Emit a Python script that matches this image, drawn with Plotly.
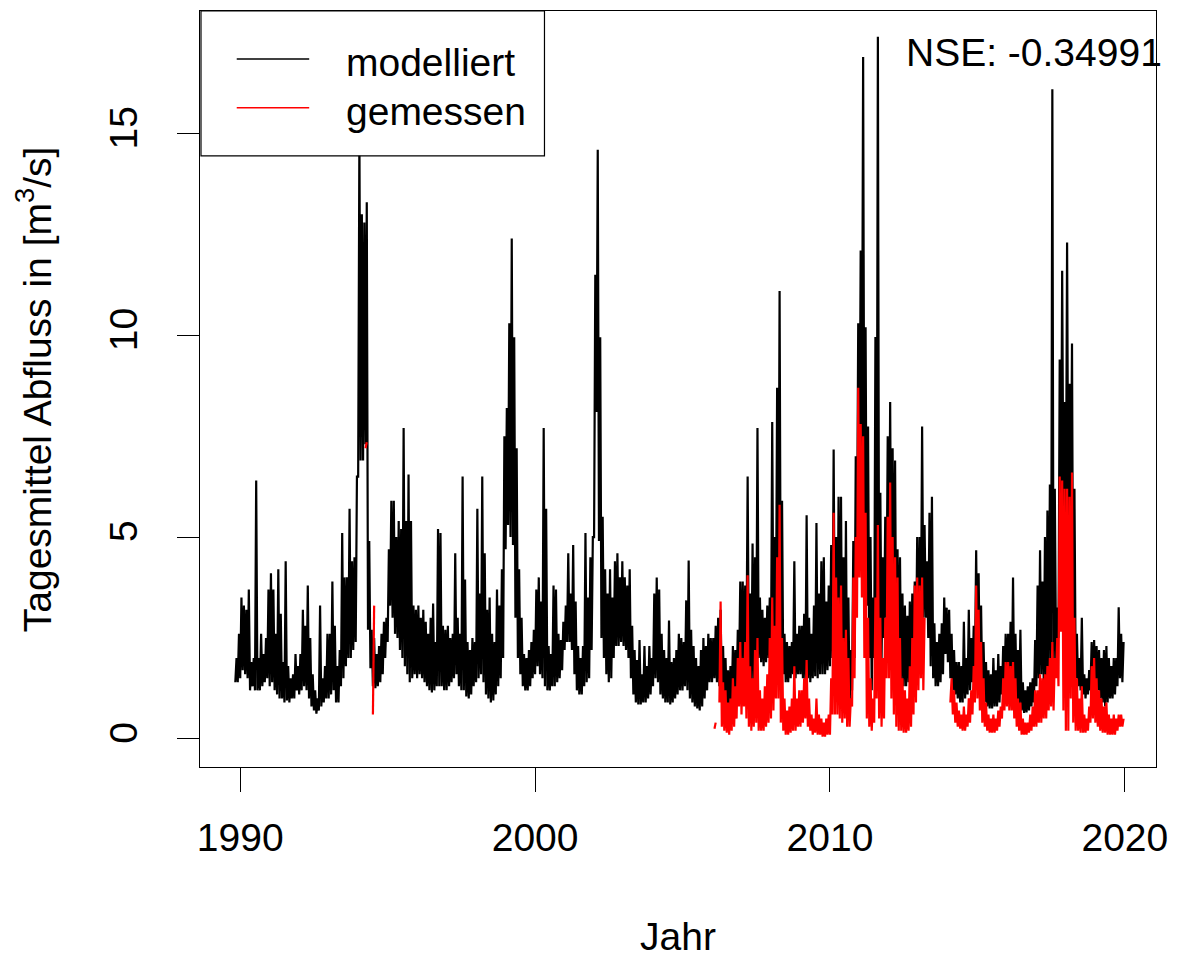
import pandas as pd
import plotly.graph_objects as go

# ---------------- data (monthly low / high envelope of daily values, m^3/s) ----------------
mod_start = "1989-11"   # modelled series, monthly steps
mod_low = [
    1.4, 1.4,                                                       # 1989 Nov-Dec
    1.5, 1.7, 1.6, 1.5, 1.2, 1.3, 1.2, 1.2, 1.2, 1.3, 1.4, 1.5,     # 1990
    1.3, 1.4, 1.2, 1.1, 1.0, 1.0, 0.9, 0.95, 0.9, 1.0, 1.0, 1.2,    # 1991
    1.1, 1.2, 1.3, 1.2, 1.0, 0.8, 0.7, 0.62, 0.7, 0.8, 0.9, 1.0,    # 1992
    1.0, 1.1, 1.2, 0.9, 0.9, 1.3, 1.5, 1.8, 2.0, 2.0, 2.2, 2.4,     # 1993
    6.5, 6.9, 6.9, 7.3, 2.7, 1.75, 1.3, 1.25, 1.3, 1.4, 1.6, 2.0,   # 1994
    2.4, 3.3, 3.0, 2.6, 2.5, 2.2, 2.0, 1.8, 1.6, 1.4, 1.5, 1.6,     # 1995
    1.5, 1.6, 1.5, 1.4, 1.3, 1.2, 1.15, 1.2, 1.3, 1.3, 1.3, 1.2,    # 1996
    1.2, 1.3, 1.4, 1.5, 1.6, 1.3, 1.2, 1.2, 1.05, 1.0, 1.1, 1.3,    # 1997
    1.4, 1.5, 1.6, 1.4, 1.1, 1.0, 0.9, 0.95, 1.1, 1.3, 1.5, 2.0,    # 1998
    4.7, 5.3, 5.0, 4.8, 3.0, 2.0, 1.6, 1.3, 1.2, 1.2, 1.3, 1.5,     # 1999
    1.6, 1.8, 1.6, 1.5, 1.3, 1.2, 1.2, 1.3, 1.3, 1.4, 1.5, 1.7,     # 2000
    2.2, 2.4, 2.4, 2.2, 1.6, 1.2, 1.1, 1.1, 1.3, 1.4, 1.5, 2.2,     # 2001
    5.0, 8.1, 4.9, 2.5, 2.0, 1.6, 1.4, 1.5, 2.0, 2.3, 2.3, 2.4,     # 2002
    2.3, 2.2, 2.0, 1.5, 1.1, 0.9, 0.85, 0.85, 0.9, 0.9, 1.0, 1.1,   # 2003
    1.3, 1.5, 1.4, 1.1, 1.0, 0.9, 0.9, 0.85, 0.9, 1.0, 1.1, 1.2,    # 2004
    1.2, 1.3, 1.2, 1.0, 0.9, 0.8, 0.75, 0.7, 0.8, 1.0, 1.2, 1.4,    # 2005
    1.4, 1.5, 1.4, 1.3, 1.0, 0.85, 0.8, 0.8, 0.85, 1.0, 1.2, 1.6,   # 2006
    1.8, 1.9, 2.0, 1.6, 1.3, 1.4, 1.8, 2.0, 1.9, 1.8, 1.9, 2.0,     # 2007
    2.0, 2.2, 2.5, 2.6, 2.0, 1.6, 1.4, 1.4, 1.5, 1.6, 1.5, 1.6,     # 2008
    1.6, 1.5, 1.4, 1.5, 1.4, 1.5, 1.55, 1.5, 1.6, 1.6, 1.6, 1.7,    # 2009
    1.8, 2.0, 1.8, 1.5, 1.2, 1.0, 0.9, 0.7, 0.8, 1.2, 2.0, 4.5,     # 2010
    6.0, 7.0, 5.0, 3.3, 2.0, 1.2, 2.0, 3.4, 2.5, 2.0, 2.5, 3.0,     # 2011
    3.0, 2.5, 2.2, 1.6, 1.5, 1.4, 1.3, 1.3, 1.4, 1.5, 1.7, 2.0,     # 2012
    2.2, 2.5, 3.0, 3.0, 2.5, 1.8, 1.5, 1.3, 1.3, 1.4, 1.6, 2.1,     # 2013
    1.9, 1.5, 1.2, 1.1, 1.0, 0.9, 0.9, 1.0, 1.1, 1.2, 1.4, 1.8,     # 2014
    1.6, 1.4, 1.1, 0.9, 0.8, 0.75, 0.75, 0.8, 0.8, 0.9, 1.1, 1.3,   # 2015
    1.4, 1.2, 1.1, 1.0, 0.9, 0.8, 0.7, 0.64, 0.65, 0.7, 0.8, 0.9,   # 2016
    1.3, 1.5, 1.6, 1.4, 1.2, 1.5, 2.0, 1.5, 2.0, 2.5, 4.9, 5.5,     # 2017
    5.0, 4.9, 4.9, 2.0, 1.5, 1.3, 1.2, 1.1, 1.0, 1.1, 1.2, 1.2,     # 2018
    1.3, 1.2, 1.0, 0.9, 0.8, 0.9, 1.0, 1.0, 1.1, 1.3, 1.5, 1.4,     # 2019
]
mod_high = [
    2.0, 2.6,                                                       # 1989 Nov-Dec
    3.5, 3.3, 3.2, 3.7, 1.9, 2.0, 6.4, 2.0, 2.6, 2.1, 2.5, 3.7,     # 1990
    4.1, 3.7, 2.6, 4.2, 3.1, 1.9, 4.4, 1.8, 1.5, 1.6, 2.1, 1.8,     # 1991
    2.1, 3.2, 2.8, 3.8, 2.5, 1.6, 1.2, 1.0, 3.3, 1.5, 1.8, 2.6,     # 1992
    2.6, 3.9, 2.8, 1.8, 2.2, 5.1, 4.0, 4.0, 5.7, 4.4, 4.5, 6.5,     # 1993
    15.0, 13.0, 12.8, 13.3, 4.9, 2.7, 2.5, 2.1, 2.3, 2.6, 2.9, 3.0, # 1994
    4.7, 5.9, 5.9, 5.0, 5.4, 5.2, 7.7, 5.4, 6.55, 5.4, 3.3, 3.2,    # 1995
    3.3, 3.0, 3.2, 2.9, 2.6, 3.0, 3.35, 2.4, 5.2, 5.1, 2.8, 2.7,    # 1996
    2.8, 2.5, 2.6, 4.6, 3.0, 2.6, 6.5, 3.95, 2.4, 2.2, 2.5, 2.4,    # 1997
    5.7, 3.6, 6.5, 4.6, 3.2, 3.5, 2.6, 2.4, 3.7, 3.3, 4.2, 7.5,     # 1998
    8.2, 10.3, 12.4, 9.95, 7.2, 4.2, 3.0, 2.1, 2.0, 2.2, 2.4, 2.7,  # 1999
    3.7, 4.0, 3.4, 7.7, 5.7, 2.3, 2.1, 3.8, 3.7, 2.6, 2.45, 2.9,    # 2000
    3.3, 4.6, 3.6, 4.8, 3.4, 2.3, 2.0, 2.3, 5.1, 3.5, 4.5, 5.0,     # 2001
    11.5, 14.6, 9.95, 5.5, 4.2, 3.6, 4.2, 3.5, 4.4, 4.6, 4.0, 4.4,  # 2002
    4.0, 3.8, 4.2, 2.8, 2.2, 1.95, 2.45, 1.6, 2.3, 1.8, 2.3, 2.0,   # 2003
    3.6, 4.0, 3.7, 2.6, 2.2, 2.0, 2.93, 1.9, 2.0, 2.2, 2.6, 2.5,    # 2004
    2.4, 3.43, 4.42, 2.7, 2.3, 2.0, 1.8, 2.2, 2.5, 2.3, 2.6, 2.5,   # 2005
    2.5, 2.8, 3.0, 3.2, 2.3, 2.0, 1.7, 1.8, 2.3, 2.2, 2.7, 3.9,     # 2006
    3.9, 3.8, 6.5, 3.6, 4.84, 4.5, 7.7, 3.5, 3.2, 3.0, 3.3, 3.5,    # 2007
    7.85, 5.0, 8.7, 11.1, 5.9, 2.6, 2.4, 2.3, 2.4, 4.4, 2.6, 2.8,   # 2008
    2.8, 3.1, 5.54, 3.0, 2.6, 3.3, 5.35, 3.6, 4.4, 4.5, 3.4, 3.8,   # 2009
    4.8, 7.17, 5.0, 6.0, 6.0, 4.5, 5.4, 3.5, 2.2, 4.9, 7.0, 10.3,   # 2010
    12.1, 16.9, 10.2, 7.74, 5.0, 3.5, 9.96, 17.4, 6.1, 4.5, 5.5, 7.5,  # 2011
    8.35, 7.2, 6.9, 4.7, 4.5, 3.6, 3.3, 3.05, 3.4, 3.6, 3.9, 5.0,   # 2012
    5.0, 7.74, 5.3, 4.4, 5.6, 6.0, 2.86, 2.4, 2.6, 2.86, 3.5, 3.25, # 2013
    3.2, 2.6, 2.2, 1.9, 1.9, 1.8, 2.9, 2.0, 3.2, 2.5, 2.8, 4.67,    # 2014
    4.1, 3.3, 2.4, 1.9, 1.7, 1.6, 2.0, 1.7, 2.1, 1.8, 2.3, 2.6,     # 2015
    2.6, 2.9, 4.0, 2.6, 2.2, 2.7, 1.4, 1.2, 1.3, 1.4, 1.5, 2.45,    # 2016
    3.8, 4.67, 3.9, 5.0, 5.66, 6.3, 16.1, 6.2, 3.25, 9.4, 11.6, 8.35,  # 2017
    12.3, 8.8, 9.8, 6.2, 2.6, 2.0, 3.0, 1.6, 1.5, 1.7, 2.4, 2.45,   # 2018
    2.3, 2.2, 2.0, 2.2, 2.3, 2.0, 1.8, 2.0, 2.0, 3.26, 2.6, 2.4,    # 2019
]

# measured series (None = no measurement)
obs94_months = ["1994-04", "1994-07"]
obs94_low = [7.2, 0.6]
obs94_high = [7.35, 3.3]

N = None
obs_start = "2006-01"
obs_low = [
    N, 0.25, N, 0.9, 0.3, 0.2, 0.15, 0.1, 0.2, 0.3, 0.5, 0.8,        # 2006
    0.6, 0.8, 0.5, 0.3, 0.2, 0.3, 0.4, 0.2, 0.2, 0.2, 0.3, 0.4,       # 2007
    0.5, 0.7, 1.0, 1.0, 0.4, 0.2, 0.1, 0.1, 0.15, 0.2, 0.2, 0.3,      # 2008
    0.3, 0.4, 0.5, 0.3, 0.2, 0.1, 0.15, 0.1, 0.1, 0.05, 0.05, 0.1,    # 2009
    0.1, 0.6, 0.6, 0.6, 0.5, 0.4, 0.5, 0.3, 0.3, 0.8, 1.5, 3.0,       # 2010
    4.0, 3.5, 2.0, 0.5, 0.3, 0.2, 0.4, 1.0, 0.5, 0.3, 0.5, 1.5,       # 2011
    1.5, 1.0, 0.6, 0.3, 0.2, 0.2, 0.15, 0.15, 0.2, 0.3, 0.6, 0.9,     # 2012
    1.2, 1.5, 1.2, N, N, N, N, N, N, N, N, N,                         # 2013
    N, 0.9, 0.6, 0.4, 0.3, 0.25, 0.2, 0.2, 0.3, 0.4, 0.6, 0.9,        # 2014
    1.0, 0.7, 0.4, 0.3, 0.2, 0.15, 0.15, 0.15, 0.2, 0.3, 0.5, 0.7,    # 2015
    0.8, 0.7, 0.7, 0.5, 0.3, 0.2, 0.1, 0.1, 0.1, 0.15, 0.2, 0.3,      # 2016
    0.3, 0.4, 0.4, 0.5, 0.5, 0.7, 0.8, 0.7, 1.5, 1.3, 2.65, 0.7,      # 2017
    0.2, 0.2, 1.0, 0.4, 0.2, 0.2, 0.15, 0.15, 0.15, 0.2, 0.4, 0.5,    # 2018
    0.4, 0.3, 0.2, 0.15, 0.15, 0.1, 0.1, 0.1, 0.1, 0.2, 0.3, 0.3,     # 2019
]
obs_high = [
    N, 0.4, N, 3.4, 1.4, 1.2, 0.9, 1.0, 1.5, 1.3, 2.0, 2.4,          # 2006
    2.0, 2.4, 4.05, 1.8, 1.5, 2.2, 2.5, 1.2, 1.0, 1.3, 1.6, 2.5,      # 2007
    3.5, 2.8, 4.5, 5.8, 2.5, 1.0, 0.7, 0.8, 1.0, 1.8, 1.0, 1.2,       # 2008
    1.2, 1.5, 1.95, 1.0, 0.6, 0.5, 1.0, 0.6, 0.5, 0.4, 0.5, 0.6,      # 2009
    1.5, 5.6, 4.0, 3.5, 3.8, 2.5, 2.7, 2.0, 1.0, 4.0, 5.0, 8.7,       # 2010
    7.8, 7.5, 5.6, 3.0, 1.5, 1.0, 3.5, 5.3, 3.0, 2.0, 3.0, 5.5,       # 2011
    6.35, 5.0, 4.5, 4.0, 2.5, 1.5, 1.2, 1.0, 1.8, 2.5, 3.8, 4.0,      # 2012
    3.8, 4.0, 3.0, N, N, N, N, N, N, N, N, N,                         # 2013
    N, 1.5, 1.2, 0.9, 0.7, 0.6, 0.8, 0.6, 1.0, 1.2, 1.8, 3.8,         # 2014
    3.2, 2.4, 1.5, 0.9, 0.6, 0.5, 0.6, 0.5, 0.7, 0.8, 1.5, 1.9,       # 2015
    1.9, 1.8, 1.9, 1.5, 1.0, 0.9, 0.5, 0.4, 0.4, 0.6, 0.8, 1.2,       # 2016
    1.2, 1.6, 1.5, 1.6, 1.8, 2.0, 2.4, 2.0, 2.5, 6.5, 6.4, 6.2,       # 2017
    6.2, 6.0, 6.6, 3.0, 1.5, 1.0, 1.3, 0.6, 0.5, 0.8, 1.8, 2.0,       # 2018
    1.5, 1.2, 1.0, 0.8, 0.9, 0.6, 0.5, 0.6, 0.5, 0.6, 0.6, 0.5,       # 2019
]

x_ticks = [1990, 2000, 2010, 2020]
y_ticks = [0, 5, 10, 15]
nse_text = "NSE: -0.34991"
legend_labels = ["modelliert", "gemessen"]
colors = ["black", "#ff0000"]


def decimal_years(dates):
    return [d.year + (d.month - 1) / 12 for d in dates]


def zigzag(dates, lows, highs):
    xs, ys = [], []
    for t, lo, hi in zip(decimal_years(dates), lows, highs):
        if lo is None or hi is None:
            xs.append(t)
            ys.append(None)
        else:
            xs += [t, t + 0.5 / 12]
            ys += [lo, hi]
    return xs, ys


mod_dates = pd.date_range(mod_start, periods=len(mod_low), freq="MS")
obs_dates = pd.date_range(obs_start, periods=len(obs_low), freq="MS")
obs94_dates = pd.to_datetime(obs94_months)

mx, my = zigzag(mod_dates, mod_low, mod_high)
ox, oy = zigzag(obs_dates, obs_low, obs_high)
o94x, o94y = [], []
for d, lo, hi in zip(decimal_years(obs94_dates), obs94_low, obs94_high):
    o94x += [d, d + 0.5 / 12, d + 0.5 / 12]
    o94y += [lo, hi, None]

FONT = "Liberation Sans, Arial, sans-serif"
FS = 39

fig = go.Figure()
fig.add_trace(go.Scatter(x=mx, y=my, mode="lines", line=dict(color=colors[0], width=2.2),
                         name=legend_labels[0], showlegend=False))
fig.add_trace(go.Scatter(x=o94x + [None] + ox, y=o94y + [None] + oy, mode="lines",
                         line=dict(color=colors[1], width=2.2),
                         name=legend_labels[1], showlegend=False, connectgaps=False))

# plot area in pixels: x 200..1163, y 10..767
W, H = 1178, 957
L, R, T, B = 200, 1163, 10, 767


def px(xp):
    return (xp - L) / (R - L)


def py(yp):
    return (B - yp) / (B - T)


fig.update_layout(
    width=W, height=H,
    margin=dict(l=L, r=W - R, t=T, b=H - B),
    paper_bgcolor="white", plot_bgcolor="white",
    font=dict(family=FONT, size=FS, color="black"),
    showlegend=False,
    xaxis=dict(range=[1988.636, 2021.057], tickvals=x_ticks, ticktext=[str(v) for v in x_ticks],
               showgrid=False, zeroline=False, showline=True, mirror=True, linecolor="black",
               linewidth=1.2, ticks="outside", ticklen=24, tickcolor="black", tickwidth=1.2,
               ticklabelstandoff=12,
               tickfont=dict(size=FS, family=FONT, color="black")),
    yaxis=dict(range=[-0.70, 18.04], tickvals=y_ticks, ticktext=[str(v) for v in y_ticks],
               showgrid=False, zeroline=False, showline=True, mirror=True, linecolor="black",
               linewidth=1.2, ticks="outside", ticklen=22, tickcolor="black", tickwidth=1.2,
               ticklabelstandoff=24,
               tickangle=-90, tickfont=dict(size=FS, family=FONT, color="black")),
)

# manual legend (R style)
fig.add_shape(type="rect", xref="paper", yref="paper", x0=px(201), x1=px(547), y0=py(155), y1=py(10),
              line=dict(color="black", width=1.2), fillcolor="white", layer="above")
for i, yy in enumerate([58, 107]):
    fig.add_shape(type="line", xref="paper", yref="paper", x0=px(237), x1=px(310), y0=py(yy), y1=py(yy),
                  line=dict(color=colors[i], width=1.5), layer="above")
    fig.add_annotation(xref="paper", yref="paper", x=px(345), y=py(yy + 4), text=legend_labels[i],
                       showarrow=False, xanchor="left", yanchor="middle",
                       font=dict(size=FS, family=FONT, color="black"))

fig.add_annotation(xref="paper", yref="paper", x=px(909), y=py(52), text=nse_text, showarrow=False,
                   xanchor="left", yanchor="middle", font=dict(size=FS, family=FONT, color="black"))
fig.add_annotation(xref="paper", yref="paper", x=0.5, y=py(937), text="Jahr", showarrow=False,
                   xanchor="center", yanchor="middle", font=dict(size=FS, family=FONT, color="black"))
fig.add_annotation(xref="paper", yref="paper", x=px(32), y=0.5, text="Tagesmittel Abfluss in [m<sup>3</sup>/s]",
                   textangle=-90, showarrow=False, xanchor="center", yanchor="middle",
                   font=dict(size=FS, family=FONT, color="black"))

fig.write_html("out.html")
